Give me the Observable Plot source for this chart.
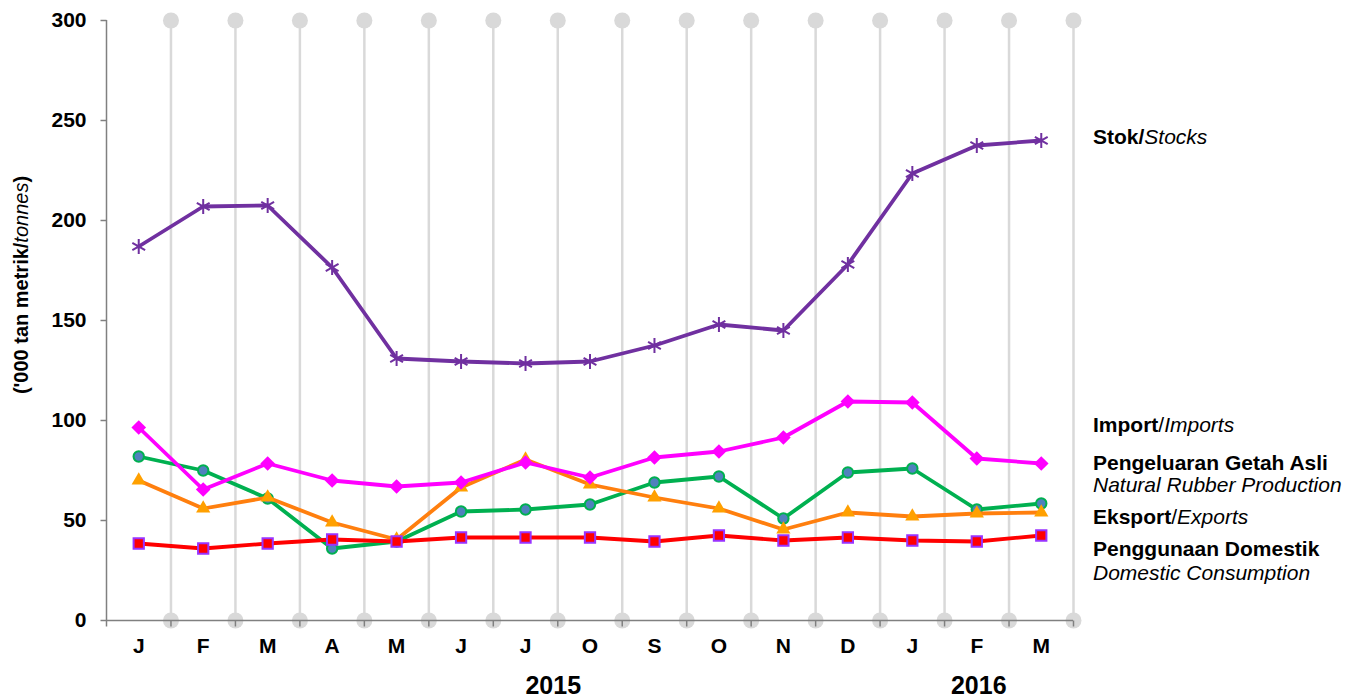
<!DOCTYPE html>
<html><head><meta charset="utf-8">
<script src="https://cdn.jsdelivr.net/npm/d3@7"></script>
<script src="https://cdn.jsdelivr.net/npm/@observablehq/plot@0.6"></script>
<style>
body{margin:0;background:#fff}
svg{font-family:"Liberation Sans",Arial,sans-serif}
</style>
</head><body><div id="chart"></div>
<script>
// ---- data ----
const months = ["J","F","M","A","M","J","J","O","S","O","N","D","J","F","M"];
const stocks = [187,207,207.5,176.5,131,129.5,128.5,129.5,137.5,148,145,178,223.5,237.5,240];
const imports = [96.5,65.5,78.5,70,67,69,79,71.5,81.5,84.5,91.5,109.5,109,81,78.5];
const production = [82,75,61,36,39.5,54.5,55.5,58,69,72,51,74,76,55.5,58.5];
const exportsV = [70,56,61.5,49,40.5,66.5,80.5,68,61.5,56,45.5,54,52,53.5,54];
const domestic = [38.5,36,38.5,40.5,39.5,41.5,41.5,41.5,39.5,42.5,40,41.5,40,39.5,42.5];
const yTicks = [0,50,100,150,200,250,300];
const years = ["2015","2016"];
const yAxisTitle = [["('000 tan metrik/","bold"],["tonnes","italic"],[")","bold"]];
const legendLabels = [
  [["Stok/","bold"],["Stocks","italic"]],
  [["Import","bold"],["/","normal"],["Imports","italic"]],
  [["Pengeluaran Getah Asli","bold"]],
  [["Natural Rubber Production","italic"]],
  [["Eksport","bold"],["/","normal"],["Exports","italic"]],
  [["Penggunaan Domestik","bold"]],
  [["Domestic Consumption","italic"]]
];

// ---- layout ----
const legendY = [241.5, 97.5, 78.5, 67.5, 51.5, 35.5, 23.5];
const yearX = [6.43, 13.03];
const bounds = months.map((_, i) => i + 0.5);

const rows = (vals) => vals.map((v, i) => ({i, v}));
const S = rows(stocks), I = rows(imports), P = rows(production), E = rows(exportsV), D = rows(domestic);

const grey = "#808080", gridC = "#d9d9d9";
const tickLeft = {draw(ctx) { ctx.moveTo(-6, 0); ctx.lineTo(0, 0); }};
const tickDown = {draw(ctx) { ctx.moveTo(0, 0); ctx.lineTo(0, 6); }};

const plot = Plot.plot({
  width: 1361, height: 697,
  marginLeft: 106, marginRight: 288, marginTop: 20, marginBottom: 77,
  x: {type: "linear", domain: [-0.5, 14.5], axis: null},
  y: {domain: [0, 300], axis: null},
  style: {fontFamily: '"Liberation Sans", Arial, sans-serif', background: "white", overflow: "visible"},
  marks: [
    Plot.ruleX(bounds, {y1: 0, y2: 300, stroke: gridC, strokeWidth: 2.5}),
    Plot.dot(bounds, {x: d => d, y: () => 300, r: 8, fill: gridC}),
    Plot.dot(bounds, {x: d => d, y: () => 0, r: 8, fill: gridC}),
    Plot.ruleX([-0.5], {y1: 0, y2: 300, stroke: grey, strokeWidth: 1.5}),
    Plot.ruleY([0], {x1: -0.5, x2: 14.5, stroke: grey, strokeWidth: 1.5}),
    Plot.dot(yTicks, {x: () => -0.5, y: d => d, symbol: tickLeft, fill: "none", stroke: grey, strokeWidth: 1.5}),
    Plot.dot([-0.5, ...bounds], {x: d => d, y: () => 0, symbol: tickDown, fill: "none", stroke: grey, strokeWidth: 1.5}),
    Plot.text(yTicks, {x: () => -0.5, y: d => d, text: d => String(d), dx: -20, textAnchor: "end", fontSize: 21, fontWeight: "bold", fill: "black"}),
    Plot.text(months, {x: (d, i) => i, y: () => 0, text: d => d, dy: 26, fontSize: 21, fontWeight: "bold", fill: "black"}),
    Plot.text(years, {x: (d, i) => yearX[i], y: () => 0, text: d => d, dy: 65, fontSize: 25, fontWeight: "bold", fill: "black"}),
    // stocks
    Plot.line(S, {x: "i", y: "v", stroke: "#7030a0", strokeWidth: 3.8}),
    Plot.dot(S, {x: "i", y: "v", symbol: "asterisk", r: 7, stroke: "#7030a0", strokeWidth: 2}),
    // production
    Plot.line(P, {x: "i", y: "v", stroke: "#00b050", strokeWidth: 3.8}),
    Plot.dot(P, {x: "i", y: "v", symbol: "circle", r: 5.2, fill: "#4f81bd", stroke: "#00b050", strokeWidth: 2}),
    // exports
    Plot.line(E, {x: "i", y: "v", stroke: "#ff7f0e", strokeWidth: 3.8}),
    Plot.dot(E, {x: "i", y: "v", symbol: "triangle", r: 5.3, fill: "#ffa000", stroke: "none"}),
    // domestic
    Plot.line(D, {x: "i", y: "v", stroke: "#ff0000", strokeWidth: 3.8}),
    Plot.dot(D, {x: "i", y: "v", symbol: "square", r: 5.8, fill: "#ff0000", stroke: "#9933ff", strokeWidth: 2}),
    // imports
    Plot.line(I, {x: "i", y: "v", stroke: "#ff00ff", strokeWidth: 3.8}),
    Plot.dot(I, {x: "i", y: "v", symbol: "diamond2", r: 6.6, fill: "#ff00ff", stroke: "none"})
  ]
});

const xs = plot.scale("x"), ys = plot.scale("y");
const svg = d3.select(plot);

function addParts(t, parts) {
  parts.forEach(([txt, st]) => {
    t.append("tspan")
      .attr("font-weight", st === "bold" ? "bold" : "normal")
      .attr("font-style", st === "italic" ? "italic" : "normal")
      .text(txt);
  });
}

// y axis title
const yt = svg.append("text")
  .attr("transform", `translate(28, ${ys.apply(167.5)}) rotate(-90)`)
  .attr("text-anchor", "middle")
  .attr("font-size", 20).attr("fill", "black");
addParts(yt, yAxisTitle);

// legend labels
legendLabels.forEach((parts, k) => {
  const t = svg.append("text")
    .attr("x", xs.apply(14.5) + 20)
    .attr("y", ys.apply(legendY[k]))
    .attr("dy", "0.35em")
    .attr("text-anchor", "start")
    .attr("font-size", 21).attr("fill", "black");
  addParts(t, parts);
});

document.getElementById("chart").appendChild(plot);
</script>
</body></html>
